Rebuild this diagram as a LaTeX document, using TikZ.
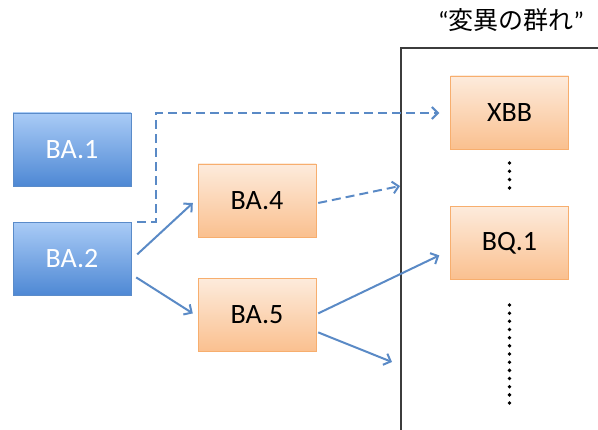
\documentclass[tikz,border=0pt]{standalone}
\usepackage{fontspec}
\setmainfont{Carlito}
\newfontfamily\cjkfont{Noto Sans CJK JP}
\usetikzlibrary{arrows.meta,positioning,calc}
\definecolor{linkblue}{HTML}{5A8AC6}
\definecolor{bluetop}{HTML}{A9CBF6}
\definecolor{bluebot}{HTML}{4E88D4}
\definecolor{blueedge}{HTML}{5A8BC9}
\definecolor{orangetop}{HTML}{FDEBDC}
\definecolor{orangebot}{HTML}{FAC08F}
\definecolor{orangeedge}{HTML}{F7AE6E}
\definecolor{framegray}{HTML}{3C3C3C}

\begin{document}
\begin{tikzpicture}[x=1pt, y=-1pt, >={Straight Barb[length=6pt,width=12pt]}, node distance=36pt]
\tikzstyle{box}=[rectangle, minimum width=118pt, minimum height=73pt, inner sep=0pt, font=\fontsize{28}{32}\selectfont]
\tikzstyle{bluebox}=[box, draw=blueedge, top color=bluetop, bottom color=bluebot, text=white]
\tikzstyle{orangebox}=[box, draw=orangeedge, top color=orangetop, bottom color=orangebot, text=black]
\tikzstyle{link}=[->, draw=linkblue, line width=2pt]
\tikzstyle{dashlink}=[link, dash pattern=on 9pt off 5pt]
\useasboundingbox (0,0) rectangle (598,430);

% the group frame
\coordinate (frametop) at (401,48);
\coordinate (framebot) at (401,430);
\coordinate (frameend) at (598,48);
\draw[framegray, line width=1.1pt] (framebot) -- (frametop) -- (frameend);
\node (title) at (511,20) {\fontsize{25}{28}\selectfont “{\cjkfont 変異の群れ}”};

\node[bluebox]   (BA1) at (72,149.5)        {BA.1};
\node[bluebox]   (BA2) [below=36pt of BA1]  {BA.2};
\node[orangebox] (BA4) at (257,200.5)       {BA.4};
\node[orangebox] (BA5) [below=41pt of BA4]  {BA.5};
\node[orangebox] (XBB) at (509.5,112.5)     {XBB};
\node[orangebox] (BQ1) [below=57pt of XBB]  {BQ.1};

% free ends at the frame
\coordinate (gap4) at (400,186);
\coordinate (gap5) at (392,362);

\draw[dashlink] ($(BA2.north east)+(6,0)$) -| (156,113) -- ($(XBB.west)+(-11,0.5)$);
\draw[link] ($(BA2.east)+(6,-4.5)$) -- ($(BA4.west)+(-5,2.5)$);
\draw[link] ($(BA2.east)+(5,18.5)$) -- ($(BA5.west)+(-5,-1.5)$);
\draw[dashlink] ($(BA4.east)+(2,2.5)$) -- (gap4);
\draw[link] ($(BA5.east)+(2,-1.5)$) -- ($(BQ1.west)+(-11,12.5)$);
\draw[link] ($(BA5.east)+(2,17.5)$) -- (gap5);

% dots
\foreach \i in {0,...,3}
  \fill (509.5,163+8.3*\i) circle (1.9pt);
\foreach \i in {0,...,12}
  \fill (509.5,305+8.17*\i) circle (1.9pt);
\end{tikzpicture}
\end{document}
